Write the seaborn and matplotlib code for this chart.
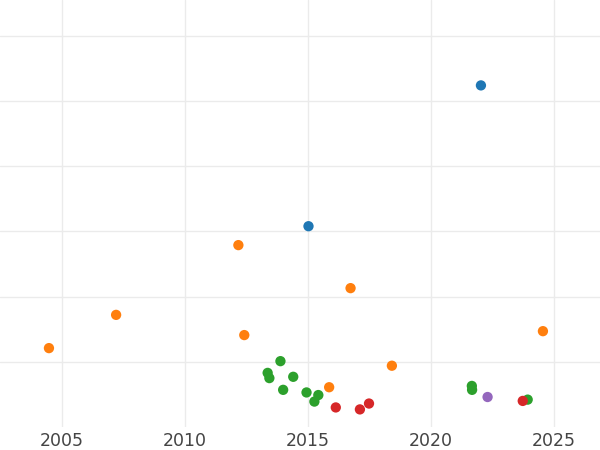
import numpy as np
import pandas as pd
import matplotlib
matplotlib.use("Agg")
import matplotlib.pyplot as plt
import seaborn as sns

# values
years = [2022.03, 2015.02,
         2012.17, 2016.73, 2007.20, 2004.47, 2012.41, 2024.55, 2018.41, 2015.86,
         2013.88, 2013.36, 2013.43, 2014.40, 2013.99, 2014.94, 2015.42, 2015.26,
         2021.66, 2021.67, 2023.93,
         2016.13, 2017.11, 2017.48, 2023.73,
         2022.30]
values = [52.4, 30.8,
          27.9, 21.3, 17.2, 12.1, 14.1, 14.7, 9.4, 6.1,
          10.1, 8.3, 7.5, 7.7, 5.7, 5.3, 4.9, 3.9,
          6.3, 5.7, 4.2,
          3.0, 2.7, 3.6, 4.0,
          4.6]
groups = ["A"] * 2 + ["B"] * 8 + ["C"] * 11 + ["D"] * 4 + ["E"]
group_order = ["A", "B", "C", "D", "E"]

df = pd.DataFrame({"year": years, "value": values, "group": groups})

sns.set_style("white")
fig = plt.figure(figsize=(6, 4.5), dpi=100)
ax = fig.add_axes([0, 23 / 450, 1, 427 / 450])

sns.scatterplot(data=df, x="year", y="value", hue="group", hue_order=group_order,
                palette="tab10", s=55, linewidth=0, legend=False, ax=ax, zorder=3)

ax.set_xlim(2002.48, 2026.87)
ax.set_ylim(0, 65.5)
ax.set_xticks([2005, 2010, 2015, 2020, 2025])
ax.set_yticks([10, 20, 30, 40, 50, 60])
ax.set_yticklabels([])
ax.grid(True, color="#ebebeb", linewidth=1.0)
ax.set_axisbelow(True)
for sp in ax.spines.values():
    sp.set_visible(False)
ax.tick_params(axis="x", length=0, pad=3.5, labelsize=12.5, labelcolor="#444444")
ax.tick_params(axis="y", length=0)
ax.set_xlabel("")
ax.set_ylabel("")

fig.savefig("out.png", dpi=100)
